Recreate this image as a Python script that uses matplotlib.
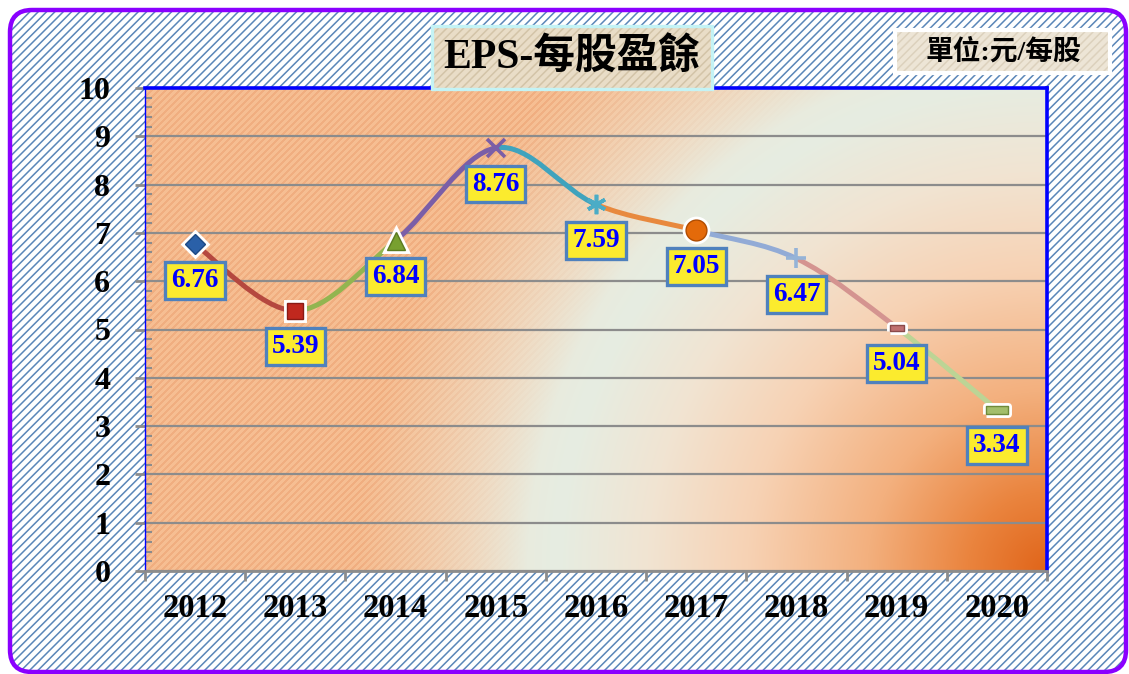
import numpy as np
import matplotlib

matplotlib.use("Agg")
import matplotlib.pyplot as plt
from matplotlib.path import Path
from matplotlib.patches import PathPatch, FancyBboxPatch
from matplotlib.ticker import MultipleLocator, FixedLocator, NullFormatter
from matplotlib.transforms import IdentityTransform

W, H = 1129, 674

# --- data -------------------------------------------------------------------
years = ["2012", "2013", "2014", "2015", "2016", "2017", "2018", "2019", "2020"]
eps = [6.76, 5.39, 6.84, 8.76, 7.59, 7.05, 6.47, 5.04, 3.34]
title = "EPS-每股盈餘"
unit = "單位:元/每股"

# --- styles -----------------------------------------------------------------
SEG_COLORS = ["#b5483f", "#92b550", "#7b5ea7", "#3fa3bd",
              "#e8893e", "#92abd6", "#d49490", "#bcd495"]
RECT_S = [(-1, -0.5), (1, -0.5), (1, 0.5), (-1, 0.5), (-1, -0.5)]
RECT_W = [(-1.5, -0.5), (1.5, -0.5), (1.5, 0.5), (-1.5, 0.5), (-1.5, -0.5)]
# marker, size, face, edge, halo
MARKERS = [
    ("D", 10, "#2a60a8", "#1d4a85", True),
    ("s", 12, "#c0281e", "#8a1a14", True),
    ("^", 13, "#78a030", "#5a7a20", True),
    ("x", 13, "none", "#7b5ea7", False),
    ((6, 2, 0), 14, "none", "#4bacc6", False),
    ("o", 15, "#e46a0a", "#b04c00", True),
    ("+", 14, "none", "#95b3d7", False),
    (RECT_S, 10, "#c07070", "#8a4a4a", True),
    (RECT_W, 16, "#a3be6b", "#6f8a3a", True),
]
GRID = "#8c8c8c"
BLUE = "#0000ff"

plt.rcParams.update({
    "font.family": ["Liberation Serif", "Noto Sans CJK TC"],
    "font.weight": "bold",
    "hatch.linewidth": 1.1,
})

fig = plt.figure(figsize=(W / 100, H / 100), dpi=100)
fig.patch.set_facecolor("white")


def box(x0, y0, x1, y1, **kw):
    # pixel box, y measured from the top of the picture
    return FancyBboxPatch((x0, H - y1), x1 - x0, y1 - y0,
                          transform=IdentityTransform(), **kw)


# hatched background inside a rounded purple frame
fig.add_artist(box(10, 10, 1126, 672, boxstyle="round,pad=0,rounding_size=22",
                   facecolor="white", edgecolor="#5a86b8", linewidth=0,
                   hatch="////", zorder=-3))
fig.add_artist(box(10, 10, 1126, 672, boxstyle="round,pad=0,rounding_size=22",
                   facecolor="none", edgecolor="#8a00ff", linewidth=3.2,
                   zorder=-2))

# --- plot area --------------------------------------------------------------
L, R, T, B = 145, 1047, 88, 571
ax = fig.add_axes([L / W, 1 - B / H, (R - L) / W, (B - T) / H])
ax.set_xlim(-0.5, len(years) - 0.5)
ax.set_ylim(0, 10)

# gradient fill: striped orange on the left, radial glow from bottom-right
nr, nc = B - T, R - L
rr, cc = np.mgrid[0:nr, 0:nc]
d = np.hypot(nc - cc, nr - rr)
stripe = ((cc + rr) % 7) < 3
light = np.array([246, 190, 146])
dark = np.array([240, 174, 128])
base = np.where(stripe[..., None], dark, light).astype(float)
stops = [0, 80, 180, 300, 400, 490, 570, 700]
cols = np.array([
    [224, 100, 25], [234, 132, 62], [243, 176, 126], [247, 210, 180],
    [241, 228, 210], [230, 237, 226], [237, 232, 216], [241, 224, 200],
])
over = np.stack([np.interp(d, stops, cols[:, k]) for k in range(3)], axis=-1)
a = np.clip((690 - d) / 170, 0, 1)[..., None]
img = (base * (1 - a) + over * a) / 255
ax.imshow(img, extent=(-0.5, len(years) - 0.5, 0, 10), aspect="auto",
          interpolation="nearest", zorder=0)

ax.yaxis.grid(True, color=GRID, linewidth=1.6)
ax.set_axisbelow("line")
ax.yaxis.set_major_locator(MultipleLocator(1))
ax.yaxis.set_minor_locator(MultipleLocator(0.2))
ax.tick_params(axis="y", which="major", direction="out", length=7, width=2,
               color=GRID, pad=18, labelsize=23)
ax.tick_params(axis="y", which="minor", direction="in", length=5, width=1.5,
               color=GRID)

xpos = np.arange(len(years))
ax.xaxis.set_major_locator(FixedLocator(np.arange(len(years) + 1) - 0.5))
ax.xaxis.set_major_formatter(NullFormatter())
ax.xaxis.set_minor_locator(FixedLocator(xpos))
ax.set_xticklabels(years, minor=True)
ax.tick_params(axis="x", which="major", direction="out", length=7, width=2,
               color=GRID)
ax.tick_params(axis="x", which="minor", length=0, pad=16, labelsize=23.5)

for side in ("top", "right"):
    ax.spines[side].set_color(BLUE)
    ax.spines[side].set_linewidth(2.6)
ax.spines["left"].set_color(BLUE)
ax.spines["left"].set_linewidth(1)
ax.spines["bottom"].set_color(GRID)
ax.spines["bottom"].set_linewidth(2)

# smoothed line, each segment in its own colour
pts = np.column_stack([xpos, eps]).astype(float)
n = len(pts)
for i in range(n - 1):
    prev = pts[i - 1] if i > 0 else pts[i]
    nxt = pts[i + 2] if i + 2 < n else pts[i + 1]
    c1 = pts[i] + (pts[i + 1] - prev) / 6
    c2 = pts[i + 1] - (nxt - pts[i]) / 6
    path = Path([pts[i], c1, c2, pts[i + 1]],
                [Path.MOVETO, Path.CURVE4, Path.CURVE4, Path.CURVE4])
    ax.add_patch(PathPatch(path, facecolor="none", edgecolor=SEG_COLORS[i],
                           linewidth=3.6, capstyle="round", zorder=3))

for i, (m, ms, fc, ec, halo) in enumerate(MARKERS):
    if halo:
        ax.plot(xpos[i], eps[i], linestyle="none", marker=m, markersize=ms,
                markerfacecolor=fc, markeredgecolor="white",
                markeredgewidth=5, zorder=4)
        ax.plot(xpos[i], eps[i], linestyle="none", marker=m, markersize=ms,
                markerfacecolor=fc, markeredgecolor=ec,
                markeredgewidth=1, zorder=4)
    else:
        ax.plot(xpos[i], eps[i], linestyle="none", marker=m, markersize=ms,
                markerfacecolor=fc, markeredgecolor=ec,
                markeredgewidth=2.6, zorder=4)

for i, v in enumerate(eps):
    ax.annotate(f"{v:.2f}", (xpos[i], v), xytext=(0, -26),
                textcoords="offset points", ha="center", va="center",
                fontsize=19.5, color=BLUE, zorder=6,
                bbox=dict(boxstyle="square,pad=0.22", facecolor="#fbeb2e",
                          edgecolor="#4f81bd", linewidth=2.4))

# --- title and unit boxes ---------------------------------------------------
fig.add_artist(box(432, 26, 712, 89, boxstyle="square,pad=0",
                   facecolor="#e9ddc7", edgecolor="#d3c4a8", linewidth=0,
                   hatch="////", zorder=5))
fig.add_artist(box(432, 26, 712, 89, boxstyle="square,pad=0",
                   facecolor="none", edgecolor="#c4f3f5", linewidth=2.4,
                   zorder=5))
fig.text(572 / W, 1 - 58 / H, title, ha="center", va="center",
         fontsize=30, color="black", zorder=6)

fig.add_artist(box(895, 30, 1110, 73, boxstyle="square,pad=0",
                   facecolor="#ede5d6", edgecolor="#dcd1bd", linewidth=0,
                   hatch="////", zorder=5))
fig.add_artist(box(895, 30, 1110, 73, boxstyle="square,pad=0",
                   facecolor="none", edgecolor="white", linewidth=3,
                   zorder=5))
fig.text(1003 / W, 1 - 52 / H, unit, ha="center", va="center",
         fontsize=20, color="black", zorder=6)

fig.savefig("out.png", dpi=100)
